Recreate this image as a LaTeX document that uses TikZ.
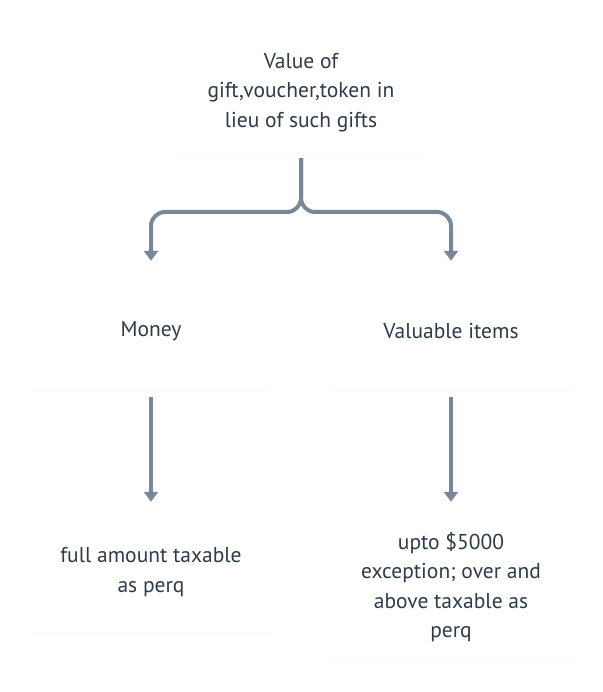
\documentclass[tikz,border=0pt]{standalone}
\usepackage{fontspec}
\setmainfont{PT Sans}
\usetikzlibrary{arrows.meta,shadows}
\definecolor{arrowc}{HTML}{76889A}
\definecolor{textc}{HTML}{2F3B48}
\definecolor{shadowc}{HTML}{C8CED6}
\begin{document}
\begin{tikzpicture}[x=1pt,y=-1pt,
  card/.style={draw=none,fill=white,rounded corners=4pt,minimum width=242pt,
    align=center,text=textc,font=\fontsize{21.5}{29.5}\selectfont,
    drop shadow={shadow xshift=0pt,shadow yshift=-1pt,opacity=0.12,fill=shadowc}},
  link/.style={draw=arrowc,line width=4pt,-{Triangle[width=14pt,length=10pt]}}]
\useasboundingbox[fill=white] (0,0) rectangle (602,692);
\node[card,minimum height=121pt] (top) at (301,92.5) {Value of\\gift,voucher,token in\\lieu of such gifts};
\node[card,minimum height=120pt] (money) at (151,331) {Money};
\node[card,minimum height=120pt] (items) at (451,331) {Valuable items};
\node[card,minimum height=120pt] (full) at (151,572) {full amount taxable\\as perq};
\node[card,minimum height=150pt] (upto) at (451,587) {upto \$5000\\exception; over and\\above taxable as\\perq};
\coordinate (split) at (top.south |- 0,212);
\draw[link,rounded corners=14pt,shorten <=5pt,shorten >=10pt] (top.south) -- (split) -- (split -| money.north) -- (money.north);
\draw[link,rounded corners=14pt,shorten <=5pt,shorten >=10pt] (top.south) -- (split) -- (split -| items.north) -- (items.north);
\draw[link,shorten <=6pt,shorten >=10pt] (money.south) -- (full.north);
\draw[link,shorten <=6pt,shorten >=10pt] (items.south) -- (upto.north);
\end{tikzpicture}
\end{document}
